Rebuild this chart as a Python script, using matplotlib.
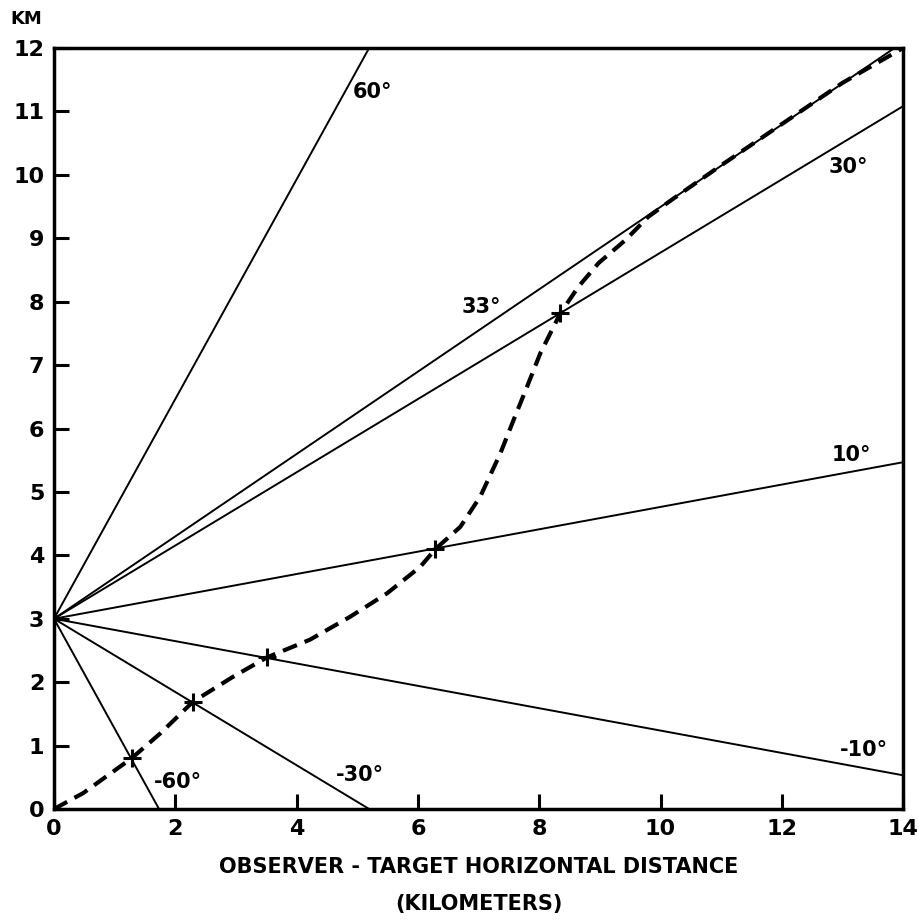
import numpy as np
import matplotlib
matplotlib.use("Agg")
import matplotlib.pyplot as plt

plt.rcParams['font.family'] = ['DejaVu Sans']
plt.rcParams['font.weight'] = 'bold'

# sight lines from the observer at 3 km height
angles = [60, 33, 30, 10, -10, -30, -60]
obs_height = 3.0
angle_labels = ['60°', '33°', '30°', '10°', '-10°', '-30°', '-60°']
label_x = [5.25, 7.05, 13.1, 13.15, 13.35, 5.05, 2.05]
label_y = [11.3, 7.92, 10.12, 5.58, 0.93, 0.54, 0.43]

# target track (dashed curve)
track_x = [0.0, 0.48, 1.28, 1.75, 2.29, 2.96, 3.51, 4.22, 4.88, 5.49, 6.04, 6.29,
           6.70, 7.03, 7.36, 7.58, 7.80, 8.02, 8.35, 8.65, 8.98, 9.42, 9.80, 10.19,
           11.0, 12.0, 13.0, 14.0]
track_y = [0.0, 0.25, 0.80, 1.19, 1.69, 2.09, 2.39, 2.67, 3.03, 3.40, 3.82, 4.10,
           4.45, 4.93, 5.61, 6.14, 6.66, 7.19, 7.82, 8.24, 8.61, 8.97, 9.34, 9.61,
           10.15, 10.80, 11.45, 12.0]

# crossing points marked with a cross
cross_x = [1.28, 2.29, 3.51, 6.29, 8.35]
cross_y = [0.80, 1.69, 2.39, 4.10, 7.82]

fig = plt.figure(figsize=(9.18, 9.23), dpi=100)
ax = fig.add_axes([0.0588, 0.1235, 0.925, 0.8245])

xs = np.array([0.0, 14.0])
for a in angles:
    ax.plot(xs, obs_height + np.tan(np.radians(a)) * xs, color='black', lw=1.4,
            solid_capstyle='butt')

ax.plot(track_x, track_y, color='black', lw=3.0, dashes=(3.6, 2.0))
ax.plot(cross_x, cross_y, '+', color='black', ms=13, mew=2.2)

for t, x, y in zip(angle_labels, label_x, label_y):
    ax.text(x, y, t, ha='center', va='center', fontsize=15, fontweight='bold')

ax.set_xlim(0, 14)
ax.set_ylim(0, 12)
ax.set_xticks(range(0, 15, 2))
ax.set_yticks(range(0, 13))
ax.tick_params(direction='in', length=11, width=2.2, labelsize=16, pad=7)
for lab in ax.get_xticklabels() + ax.get_yticklabels():
    lab.set_fontweight('bold')
for s in ax.spines.values():
    s.set_linewidth(2.5)

ax.text(-0.45, 12.45, 'KM', ha='center', va='center', fontsize=13, fontweight='bold')
ax.set_xlabel('OBSERVER - TARGET HORIZONTAL DISTANCE\n(KILOMETERS)',
              fontsize=15, fontweight='bold', labelpad=13, linespacing=2.1)

fig.savefig('out.png', dpi=100)
